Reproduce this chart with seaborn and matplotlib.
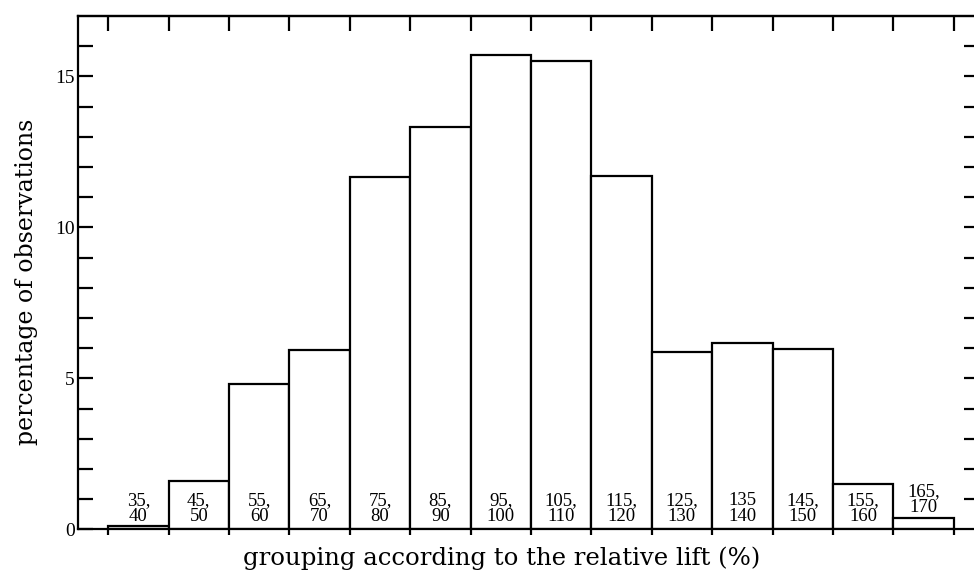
import numpy as np
import pandas as pd
import matplotlib
matplotlib.use("Agg")
import matplotlib.pyplot as plt
import seaborn as sns

# ---- data ----
groups = ["35-40", "45-50", "55-60", "65-70", "75-80", "85-90", "95-100",
          "105-110", "115-120", "125-130", "135-140", "145-150", "155-160", "165-170"]
bar_labels = ["35,\n40", "45,\n50", "55,\n60", "65,\n70", "75,\n80", "85,\n90", "95,\n100",
              "105,\n110", "115,\n120", "125,\n130", "135\n140", "145,\n150", "155,\n160", "165,\n170"]
percentages = [0.12, 1.6, 4.81, 5.94, 11.68, 13.33, 15.70,
               15.52, 11.71, 5.88, 6.16, 5.96, 1.50, 0.36]
y_major = [0, 5, 10, 15]
y_tick_labels = ["0", "5", "10", "15"]

df = pd.DataFrame({"group": groups, "pct": percentages})

sns.set_theme(style="white")
plt.rcParams["font.family"] = ["Liberation Serif", "DejaVu Serif"]

fig = plt.figure(figsize=(9.74, 5.77), dpi=100)
ax = fig.add_axes([0.0801, 0.0827, 0.9195, 0.8896])

sns.barplot(data=df, x="group", y="pct", color="white", edgecolor="black",
            linewidth=1.6, width=1.0, saturation=1, ax=ax)

ax.set_xlim(-1.0, 13.83)
ax.set_ylim(0, 17.0)

for i, (lab, h) in enumerate(zip(bar_labels, percentages)):
    y = h + 0.2 if 0.3 < h < 1.0 else 0.27
    ax.text(i, y, lab, ha="center", va="baseline", fontsize=13.5,
            linespacing=0.92, multialignment="center", color="black")

# spines
for s in ["left", "bottom", "top"]:
    ax.spines[s].set_visible(True)
    ax.spines[s].set_color("black")
    ax.spines[s].set_linewidth(1.6)
ax.spines["right"].set_visible(False)

# x ticks at bar edges (bottom, outward)
edges = np.arange(len(groups) + 1) - 0.5
ax.set_xticks(edges)
ax.set_xticklabels([])
ax.tick_params(axis="x", which="major", bottom=True, top=False, direction="out",
               length=4.5, width=1.6, color="black", labelbottom=False)
ax.set_xlabel("grouping according to the relative lift (%)", fontsize=17.6,
              color="black", family="DejaVu Serif")
ax.xaxis.set_label_coords(0.473, -0.033, transform=ax.transAxes)
ax.xaxis.label.set_va("top")

secx = ax.secondary_xaxis("top")
secx.set_xticks(edges)
secx.tick_params(axis="x", direction="in", length=11, width=1.6, color="black",
                 labeltop=False)
secx.spines["top"].set_linewidth(1.6)

# y ticks
ax.set_yticks(y_major)
ax.set_yticklabels(y_tick_labels)
ax.set_yticks(np.arange(1, 17), minor=True)
ax.tick_params(axis="y", which="both", left=True, right=False, direction="in",
               length=11, width=1.6, color="black", labelsize=14, pad=2.5,
               labelcolor="black")
ax.set_ylabel("percentage of observations", fontsize=17, color="black",
              family="DejaVu Serif")
ax.yaxis.set_label_coords(-0.057, 0.482, transform=ax.transAxes)
ax.yaxis.label.set_va("center")

secy = ax.secondary_yaxis("right")
secy.set_yticks(np.arange(1, 17))
secy.tick_params(axis="y", direction="in", length=7, width=1.6, color="black",
                 labelright=False)
secy.spines["right"].set_visible(False)

fig.savefig("out.png", dpi=100, facecolor="white")
